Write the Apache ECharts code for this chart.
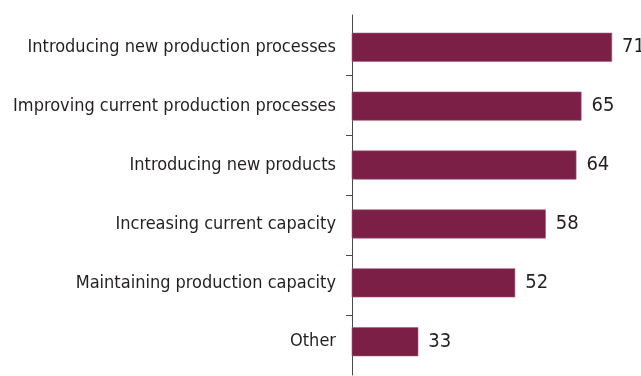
<!DOCTYPE html>
<html>
<head>
<meta charset="utf-8">
<script src="https://cdn.jsdelivr.net/npm/echarts@6/dist/echarts.min.js"></script>
<style>
  html, body { margin: 0; padding: 0; background: #fff; }
  #chart { width: 641px; height: 376px; }
</style>
</head>
<body>
<div id="chart"></div>
<script>
var categories = [
  'Introducing new production processes',
  'Improving current production processes',
  'Introducing new products',
  'Increasing current capacity',
  'Maintaining production capacity',
  'Other'
]
var values = [71, 65, 64, 58, 52, 33]
// ticks between the bands (no ticks at the ends)
var tickValues = [1, 2, 3, 4, 5]

var font = "'DejaVu Sans Condensed', 'Liberation Sans', sans-serif"

var chart = echarts.init(document.getElementById('chart'))
var option = {
  animation: false,
  grid: [
    // bars
    { left: 352, right: 8.5, top: 17.8, bottom: 4.8 },
    // axis line + small ticks
    { left: 352, right: 8.5, top: 15, bottom: 1 },
  ],
  xAxis: [
    { type: 'value', gridIndex: 0, min: 20, max: 75, show: false },
    { type: 'value', gridIndex: 1, min: 0, max: 1, show: false },
  ],
  yAxis: [
    {
      type: 'category',
      gridIndex: 0,
      data: categories,
      inverse: true,
      axisLine: { show: false },
      axisTick: { show: false },
      axisLabel: {
        color: '#231f20',
        fontFamily: font,
        fontSize: 18,
        margin: 16,
      },
    },
    {
      type: 'value',
      gridIndex: 1,
      position: 'left',
      min: 0,
      max: categories.length,
      inverse: true,
      axisLine: {
        show: true,
        lineStyle: { color: '#4a4a4a', width: 1 },
      },
      splitLine: { show: false },
      axisLabel: { show: false },
      axisTick: {
        show: true,
        length: 6,
        customValues: tickValues,
        lineStyle: { color: '#4a4a4a', width: 1 },
      },
    },
  ],
  series: [
    {
      type: 'bar',
      xAxisIndex: 0,
      yAxisIndex: 0,
      data: values,
      barWidth: 29,
      itemStyle: {
        color: '#7b1f47',
        borderColor: '#a05a7a',
        borderWidth: 0.6,
      },
      label: {
        show: true,
        position: 'right',
        distance: 10,
        color: '#231f20',
        fontFamily: font,
        fontSize: 20,
      },
    },
  ],
}
chart.setOption(option)
</script>
</body>
</html>
